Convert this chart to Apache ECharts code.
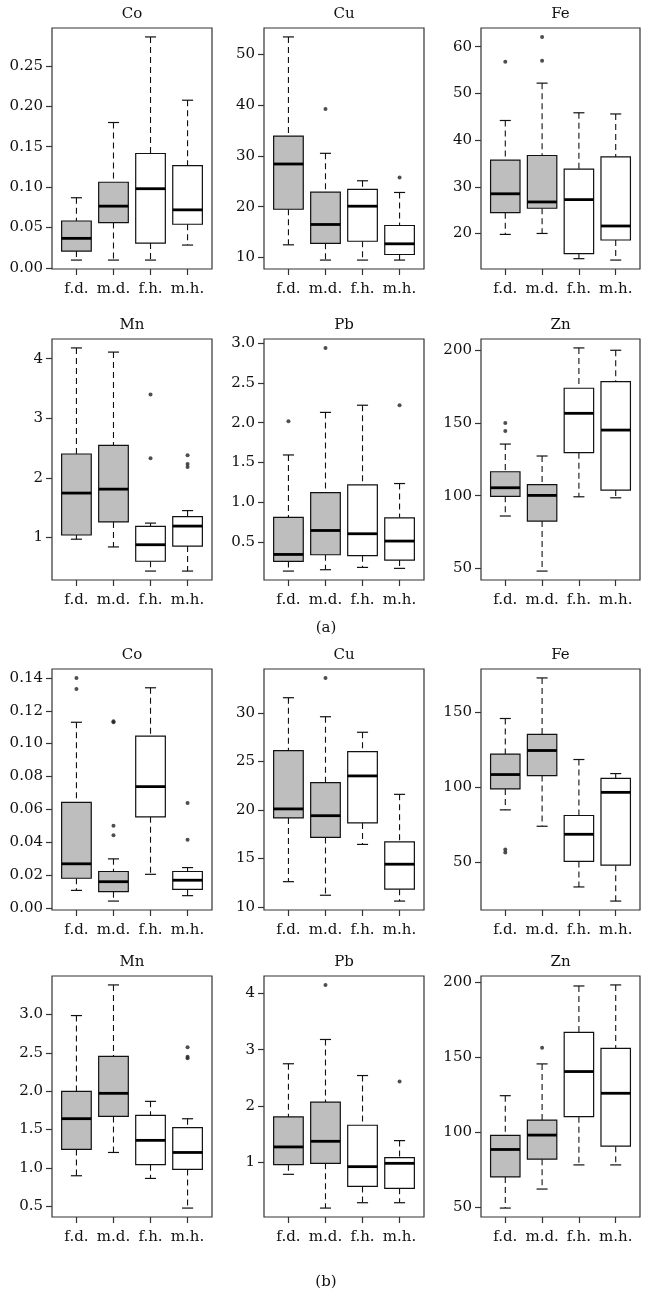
<!DOCTYPE html>
<html><head><meta charset="utf-8">
<script src="https://cdn.jsdelivr.net/npm/echarts@6/dist/echarts.min.js"></script>
<style>html,body{margin:0;padding:0;background:#fff}#c{width:651px;height:1297px}</style>
</head><body><div id="c"></div><script>
// ---- data: five-number summaries [lowWhisker, Q1, median, Q3, highWhisker] per category ----
const categories = ['f.d.', 'm.d.', 'f.h.', 'm.h.'];

// (a)
const a_Co = [[0.0096,0.0208,0.0365,0.058,0.0868],[0.0096,0.056,0.0764,0.106,0.180],[0.0096,0.0307,0.098,0.1416,0.286],[0.0282,0.054,0.0718,0.1266,0.2076]];
const a_Co_out = [];
const a_Co_ticks = [0,0.05,0.10,0.15,0.20,0.25];

const a_Cu = [[12.5,19.5,28.4,33.9,53.4],[9.5,12.8,16.5,22.85,30.5],[9.5,13.2,20.1,23.4,25.1],[9.5,10.6,12.7,16.3,22.8]];
const a_Cu_out = [[2,39.2],[4,25.75]];
const a_Cu_ticks = [10,20,30,40,50];

const a_Fe = [[19.8,24.45,28.5,35.7,44.2],[20,25.4,26.75,36.7,52.2],[14.6,15.7,27.25,33.8,45.85],[14.3,18.6,21.6,36.4,45.6]];
const a_Fe_out = [[1,56.8],[2,57],[2,62.1]];
const a_Fe_ticks = [20,30,40,50,60];

const a_Mn = [[0.97,1.04,1.744,2.40,4.18],[0.84,1.26,1.81,2.545,4.11],[0.435,0.60,0.877,1.185,1.24],[0.435,0.854,1.19,1.35,1.45]];
const a_Mn_out = [[3,2.33],[3,3.40],[4,2.18],[4,2.23],[4,2.38]];
const a_Mn_ticks = [1,2,3,4];

const a_Pb = [[0.136,0.257,0.345,0.81,1.595],[0.153,0.341,0.646,1.123,2.13],[0.182,0.329,0.605,1.22,2.22],[0.17,0.274,0.513,0.805,1.236]];
const a_Pb_out = [[1,2.02],[2,2.94],[4,2.22]];
const a_Pb_ticks = [0.5,1.0,1.5,2.0,2.5,3.0];

const a_Zn = [[86,99.5,105.4,116.4,135.4],[48.2,82.5,100.15,107.5,127.2],[99.2,129.5,156.5,173.7,201.4],[98.5,103.8,145,178.2,199.8]];
const a_Zn_out = [[1,144.3],[1,149.8]];
const a_Zn_ticks = [50,100,150,200];

// (b)
const b_Co = [[0.0106,0.018,0.0268,0.0642,0.113],[0.0041,0.0098,0.0159,0.0221,0.0298],[0.0204,0.0554,0.0738,0.1045,0.134],[0.0074,0.0112,0.0168,0.0221,0.0245]];
const b_Co_out = [[1,0.1333],[1,0.140],[2,0.0442],[2,0.050],[2,0.113],[2,0.1136],[4,0.0415],[4,0.0638]];
const b_Co_ticks = [0,0.02,0.04,0.06,0.08,0.10,0.12,0.14];

const b_Cu = [[12.6,19.17,20.1,26.1,31.56],[11.2,17.16,19.4,22.8,29.6],[16.44,18.65,23.5,26.0,28.0],[10.6,11.83,14.4,16.7,21.6]];
const b_Cu_out = [[2,33.6]];
const b_Cu_ticks = [10,15,20,25,30];

const b_Fe = [[85,98.9,108.5,122.1,145.8],[74.1,107.8,124.5,135.3,172.8],[33.7,50.7,68.75,81.25,118.5],[24.3,48.2,96.65,106,109.15]];
const b_Fe_out = [[1,56.7],[1,58.7]];
const b_Fe_ticks = [50,100,150];

const b_Mn = [[0.896,1.24,1.641,1.998,2.987],[1.20,1.67,1.972,2.455,3.387],[0.861,1.04,1.358,1.685,1.867],[0.474,0.979,1.20,1.523,1.64]];
const b_Mn_out = [[4,2.43],[4,2.45],[4,2.573]];
const b_Mn_ticks = [0.5,1.0,1.5,2.0,2.5,3.0];

const b_Pb = [[0.787,0.958,1.273,1.806,2.749],[0.188,0.982,1.373,2.067,3.18],[0.283,0.573,0.923,1.658,2.54],[0.283,0.538,0.982,1.083,1.385]];
const b_Pb_out = [[2,4.148],[4,2.435]];
const b_Pb_ticks = [1,2,3,4];

const b_Zn = [[49.3,70.1,88.4,97.8,124.3],[62,81.9,98,108,145.5],[78.1,110.3,140.4,166.5,197.5],[78.1,90.6,125.9,155.8,198.2]];
const b_Zn_out = [[2,156.2]];
const b_Zn_ticks = [50,100,150,200];

// ---- layout ----
const FONT = 'DejaVu Serif';
const FS = 15;
const cols = [{left:52,width:160},{left:264,width:160},{left:481,width:159}];
const rowTops = [28, 339, 669, 976];
const H = 241;

const panels = [
  {t:'Co',box:a_Co,out:a_Co_out,ticks:a_Co_ticks,dec:2,r:0,c:0},
  {t:'Cu',box:a_Cu,out:a_Cu_out,ticks:a_Cu_ticks,dec:0,r:0,c:1},
  {t:'Fe',box:a_Fe,out:a_Fe_out,ticks:a_Fe_ticks,dec:0,r:0,c:2},
  {t:'Mn',box:a_Mn,out:a_Mn_out,ticks:a_Mn_ticks,dec:0,r:1,c:0},
  {t:'Pb',box:a_Pb,out:a_Pb_out,ticks:a_Pb_ticks,dec:1,r:1,c:1},
  {t:'Zn',box:a_Zn,out:a_Zn_out,ticks:a_Zn_ticks,dec:0,r:1,c:2},
  {t:'Co',box:b_Co,out:b_Co_out,ticks:b_Co_ticks,dec:2,r:2,c:0},
  {t:'Cu',box:b_Cu,out:b_Cu_out,ticks:b_Cu_ticks,dec:0,r:2,c:1},
  {t:'Fe',box:b_Fe,out:b_Fe_out,ticks:b_Fe_ticks,dec:0,r:2,c:2},
  {t:'Mn',box:b_Mn,out:b_Mn_out,ticks:b_Mn_ticks,dec:1,r:3,c:0},
  {t:'Pb',box:b_Pb,out:b_Pb_out,ticks:b_Pb_ticks,dec:0,r:3,c:1},
  {t:'Zn',box:b_Zn,out:b_Zn_out,ticks:b_Zn_ticks,dec:0,r:3,c:2}
];

const boxFills = ['#bebebe','#bebebe','#ffffff','#ffffff'];
const INK = '#111111';

function renderBox(params, api){
  const x = api.value(0);
  const p = [1,2,3,4,5].map(i => api.coord([x, api.value(i)]));
  const cx = p[0][0];
  const unit = api.size([1,0])[0];
  const bw = unit*0.8, cw = unit*0.3;
  const yLo=p[0][1], yQ1=p[1][1], yMed=p[2][1], yQ3=p[3][1], yHi=p[4][1];
  const dash = {stroke:INK, lineWidth:1.1, lineDash:[6,4]};
  const solid = {stroke:INK, lineWidth:1.2};
  return {type:'group', children:[
    {type:'line', shape:{x1:cx,y1:yHi,x2:cx,y2:yQ3}, style:dash},
    {type:'line', shape:{x1:cx,y1:yQ1,x2:cx,y2:yLo}, style:dash},
    {type:'line', shape:{x1:cx-cw/2,y1:yHi,x2:cx+cw/2,y2:yHi}, style:solid},
    {type:'line', shape:{x1:cx-cw/2,y1:yLo,x2:cx+cw/2,y2:yLo}, style:solid},
    {type:'rect', shape:{x:cx-bw/2,y:yQ3,width:bw,height:yQ1-yQ3}, style:{fill:boxFills[Math.round(x)-1], stroke:INK, lineWidth:1.2}},
    {type:'line', shape:{x1:cx-bw/2,y1:yMed,x2:cx+bw/2,y2:yMed}, style:{stroke:'#000', lineWidth:2.8}}
  ]};
}

const grid=[], xAxis=[], yAxis=[], series=[], graphic=[];
panels.forEach((pn, i) => {
  const col = cols[pn.c], top = rowTops[pn.r];
  grid.push({left:col.left, top:top, width:col.width, height:H, show:true, borderColor:'#333', borderWidth:1.2, backgroundColor:'transparent'});
  const all = pn.box.flat().concat(pn.out.map(o => o[1]));
  const lo = Math.min(...all), hi = Math.max(...all), pad = (hi-lo)*0.04;
  xAxis.push({gridIndex:i, type:'value', min:0.34, max:4.66,
    axisLine:{show:false, onZero:false}, splitLine:{show:false},
    axisTick:{show:true, customValues:[1,2,3,4], length:6, lineStyle:{color:'#333', width:1.2}},
    axisLabel:{show:true, customValues:[1,2,3,4], formatter:v => categories[Math.round(v)-1], margin:13,
      fontFamily:FONT, fontSize:FS, color:'#111'}});
  yAxis.push({gridIndex:i, type:'value', min:lo-pad, max:hi+pad,
    axisLine:{show:false, onZero:false}, splitLine:{show:false},
    axisTick:{show:true, customValues:pn.ticks, length:6, lineStyle:{color:'#333', width:1.2}},
    axisLabel:{show:true, customValues:pn.ticks, formatter:v => Number(v).toFixed(pn.dec), margin:9,
      fontFamily:FONT, fontSize:FS, color:'#111'}});
  series.push({type:'custom', xAxisIndex:i, yAxisIndex:i, renderItem:renderBox,
    data: pn.box.map((d, k) => [k+1].concat(d)), encode:{x:0, y:[1,2,3,4,5]}, silent:true, z:2});
  series.push({type:'scatter', xAxisIndex:i, yAxisIndex:i, data: pn.out, symbol:'circle', symbolSize:4,
    itemStyle:{color:'#222'}, silent:true, z:3});
  graphic.push({type:'text', x: col.left + col.width/2, y: top - 14,
    style:{text:pn.t, align:'center', verticalAlign:'middle', fontFamily:FONT, fontSize:FS, fill:'#111'}});
});
graphic.push({type:'text', x:326, y:628, style:{text:'(a)', align:'center', verticalAlign:'middle', fontFamily:FONT, fontSize:FS, fill:'#111'}});
graphic.push({type:'text', x:326, y:1282, style:{text:'(b)', align:'center', verticalAlign:'middle', fontFamily:FONT, fontSize:FS, fill:'#111'}});

const chart = echarts.init(document.getElementById('c'), null, {renderer:'canvas'});
chart.setOption({animation:false, backgroundColor:'#ffffff', grid, xAxis, yAxis, series, graphic});
</script></body></html>
